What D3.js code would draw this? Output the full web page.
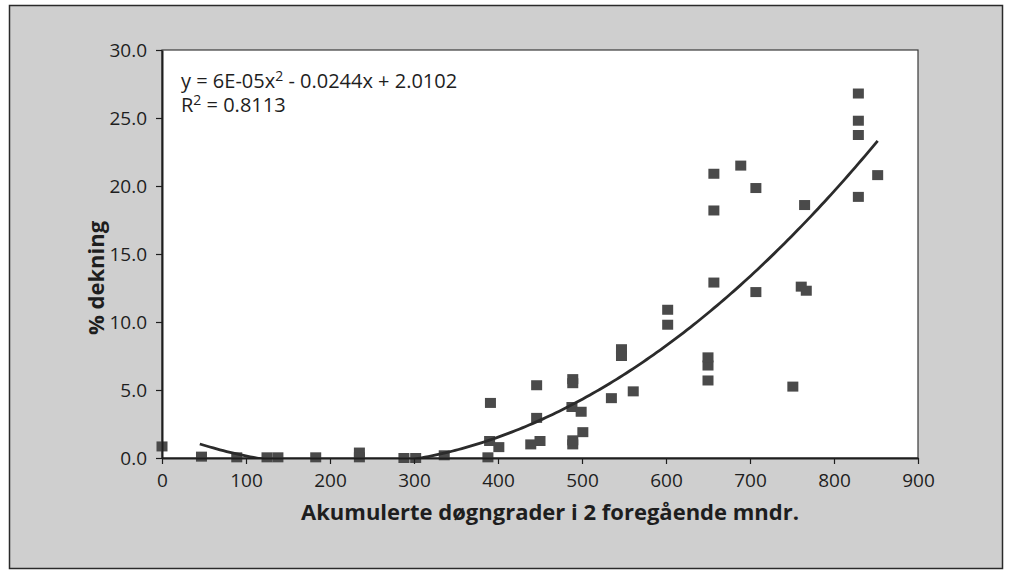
<!DOCTYPE html>
<html>
<head>
<meta charset="utf-8">
<script src="https://cdn.jsdelivr.net/npm/d3@7"></script>
<style>
  html, body { margin: 0; padding: 0; background: #ffffff; }
  svg { display: block; }
  text { font-family: "Open Sans", "Noto Sans", sans-serif; fill: #1e1e1e; }
</style>
</head>
<body>
<svg id="chart" width="1012" height="573"></svg>
<script>
// Accumulated degree-days over the two previous months (x) and % coverage (y)
const degreeDays = [
  0, 47, 89, 125, 138, 183, 235, 235, 288, 302, 336,
  388, 390, 391, 401, 439, 446, 446, 450,
  488, 489, 489, 489, 489, 499, 501, 535, 547, 547, 561,
  602, 602, 650, 650, 650, 657, 657, 657, 689, 707, 707,
  751, 761, 767, 765, 829, 829, 829, 829, 852
];
const coverage = [
  0.85, 0.1, 0.05, 0.05, 0.05, 0.05, 0.4, 0.05, 0.0, 0.0, 0.2,
  0.05, 1.25, 4.05, 0.8, 1.0, 2.95, 5.35, 1.25,
  3.75, 1.0, 1.3, 5.5, 5.8, 3.4, 1.9, 4.4, 7.5, 8.0, 4.9,
  9.8, 10.9, 5.7, 6.8, 7.4, 12.9, 18.2, 20.9, 21.5, 19.85, 12.2,
  5.25, 12.6, 12.3, 18.6, 26.8, 24.8, 23.75, 19.2, 20.8
];

// Polynomial (order 2) trend line: a*x^2 + b*x + c
const trendCoef = [5.8e-5, -0.0244, 2.0102];
const trendR2 = 0.8113;
const trendRange = [45, 852];

const xTicks = [0, 100, 200, 300, 400, 500, 600, 700, 800, 900];
const yTicks = [0, 5, 10, 15, 20, 25, 30];

const xTitle = "Akumulerte døgngrader i 2 foregående mndr.";
const yTitle = "% dekning";

const svg = d3.select("#chart");

// outer panel
svg.append("rect")
  .attr("x", 9.5).attr("y", 5.5).attr("width", 993).attr("height", 563)
  .attr("fill", "#cfcfcf").attr("stroke", "#2a2a2a").attr("stroke-width", 1.5);

const plot = { left: 162, right: 918, top: 50, bottom: 458 };

const x = d3.scaleLinear().domain([0, 900]).range([plot.left, plot.right]);
const y = d3.scaleLinear().domain([0, 30]).range([plot.bottom, plot.top]);

svg.append("clipPath").attr("id", "plot-clip")
  .append("rect")
  .attr("x", plot.left).attr("y", plot.top)
  .attr("width", plot.right - plot.left).attr("height", plot.bottom - plot.top);

// plot area
svg.append("rect")
  .attr("x", plot.left).attr("y", plot.top)
  .attr("width", plot.right - plot.left).attr("height", plot.bottom - plot.top)
  .attr("fill", "#ffffff").attr("stroke", "#3a3a3a").attr("stroke-width", 1.2);

// data points
const pts = degreeDays.map((d, i) => ({ x: d, y: coverage[i] }));
const ms = 11;
svg.append("g").selectAll("rect")
  .data(pts).join("rect")
  .attr("x", d => x(d.x) - ms / 2)
  .attr("y", d => y(d.y) - ms / 2 + 0.5)
  .attr("width", ms).attr("height", ms - 1)
  .attr("fill", "#4a4a4a");

// trend line, clipped to the plot area like the axis minimum
const poly = v => trendCoef[0] * v * v + trendCoef[1] * v + trendCoef[2];
const trendPts = d3.range(trendRange[0], trendRange[1] + 0.1, 4).map(v => [v, poly(v)]);
trendPts.push([trendRange[1], poly(trendRange[1])]);
svg.append("path")
  .datum(trendPts)
  .attr("clip-path", "url(#plot-clip)")
  .attr("fill", "none").attr("stroke", "#2b2b2b").attr("stroke-width", 2.8)
  .attr("d", d3.line().x(d => x(d[0])).y(d => y(d[1])));

// axes
const xAxis = svg.append("g")
  .attr("transform", `translate(0,${plot.bottom})`)
  .call(d3.axisBottom(x).tickValues(xTicks).tickFormat(d3.format("d"))
    .tickSize(6).tickSizeOuter(0).tickPadding(10));

const yAxis = svg.append("g")
  .attr("transform", `translate(${plot.left},0)`)
  .call(d3.axisLeft(y).tickValues(yTicks).tickFormat(d3.format(".1f"))
    .tickSize(6).tickSizeOuter(0).tickPadding(9));

[xAxis, yAxis].forEach(g => {
  g.select(".domain").attr("stroke", "#1e1e1e").attr("stroke-width", 2);
  g.selectAll(".tick line").attr("stroke", "#1e1e1e").attr("stroke-width", 1.2);
  g.selectAll(".tick text").attr("font-size", 19).attr("fill", "#1e1e1e")
    .style("font-family", '"Open Sans", sans-serif');
});

// trend equation
const fmtA = d3.format(".0e");
const aText = fmtA(trendCoef[0]).replace("e-", "E-0").replace("e+", "E+0");
const eq = svg.append("text").attr("x", 181).attr("y", 88).attr("font-size", 20);
eq.append("tspan").text(`y = ${aText}x`);
eq.append("tspan").attr("dy", -7).attr("font-size", 14).text("2");
eq.append("tspan").attr("dy", 7)
  .text(` - ${Math.abs(trendCoef[1]).toFixed(4)}x + ${trendCoef[2].toFixed(4)}`);

const r2 = svg.append("text").attr("x", 181).attr("y", 112).attr("font-size", 20);
r2.append("tspan").text("R");
r2.append("tspan").attr("dy", -7).attr("font-size", 14).text("2");
r2.append("tspan").attr("dy", 7).text(` = ${trendR2.toFixed(4)}`);

// axis titles
svg.append("text")
  .attr("x", 550).attr("y", 520)
  .attr("text-anchor", "middle").attr("font-size", 22).attr("font-weight", 700)
  .text(xTitle);

svg.append("text")
  .attr("transform", "translate(104,278) rotate(-90)")
  .attr("text-anchor", "middle").attr("font-size", 22).attr("font-weight", 700)
  .text(yTitle);
</script>
</body>
</html>
